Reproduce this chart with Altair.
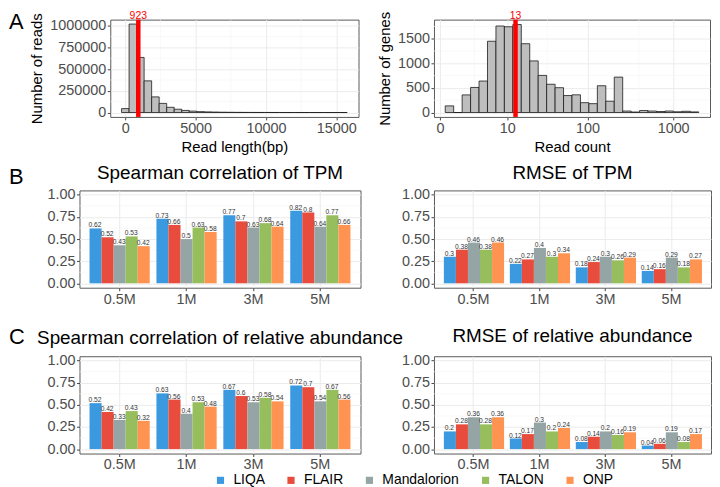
import altair as alt
import numpy as np
import pandas as pd

FONT = "Liberation Sans"

# ---------------- Panel A (left): read length histogram ----------------
len_bin_start = -267.5
len_bin_width = 535.0
len_counts = [45000, 1020000, 635000, 365000, 180000, 105000, 60000, 38000, 24000, 16000,
              10000, 7000, 5000, 3500, 2500, 1800, 1300, 900, 700, 500,
              400, 300, 200, 150, 120, 100, 80, 60, 40, 30]
len_median = [923]
len_xticks = [0, 5000, 10000, 15000]
len_xminor = [2500, 7500, 12500]
len_yticks = [0, 250000, 500000, 750000, 1000000]
len_yminor = [125000, 375000, 625000, 875000]

# ---------------- Panel A (right): read count per gene histogram (log-like axis) ----------------
cnt_counts = [135, 0, 358, 510, 640, 1450, 1760, 1745, 1790, 1400,
              1050, 755, 575, 505, 345, 360, 200, 180, 545, 230,
              720, 30, 10, 40, 30, 20, 30, 15, 25, 12]
cnt_median = [13]
symlog_c = 2.0
cnt_u_start = 0.141
cnt_u_width = 0.2253
cnt_xticks = [0, 10, 100, 1000]
cnt_xminor = [3, 33, 400]
cnt_yticks = [0, 500, 1000, 1500]
cnt_yminor = [250, 750, 1250, 1750]

# ---------------- Panels B / C: bar charts ----------------
sizes = ["0.5M", "1M", "3M", "5M"]
tools = ["LIQA", "FLAIR", "Mandalorion", "TALON", "ONP"]
colors = ["#3B99E0", "#E74C3C", "#95A5A6", "#96BE5C", "#FF9452"]

# values per tool, in order of sizes
spear_tpm = [[0.62, 0.73, 0.77, 0.82],
             [0.52, 0.66, 0.70, 0.80],
             [0.43, 0.50, 0.63, 0.64],
             [0.53, 0.63, 0.68, 0.77],
             [0.42, 0.58, 0.64, 0.66]]
rmse_tpm = [[0.30, 0.22, 0.18, 0.14],
            [0.38, 0.27, 0.24, 0.16],
            [0.46, 0.40, 0.30, 0.29],
            [0.38, 0.30, 0.26, 0.18],
            [0.46, 0.34, 0.29, 0.27]]
spear_rel = [[0.52, 0.63, 0.67, 0.72],
             [0.42, 0.56, 0.60, 0.70],
             [0.33, 0.40, 0.53, 0.54],
             [0.43, 0.53, 0.58, 0.67],
             [0.32, 0.48, 0.54, 0.56]]
rmse_rel = [[0.20, 0.12, 0.08, 0.04],
            [0.28, 0.17, 0.14, 0.06],
            [0.36, 0.30, 0.20, 0.19],
            [0.28, 0.20, 0.16, 0.08],
            [0.36, 0.24, 0.19, 0.17]]
bar_yticks = [0, 0.25, 0.5, 0.75, 1.0]
bar_yminor = [0.125, 0.375, 0.625, 0.875]

MINOR = "#F4F4F4"


def minor_rules(vals, channel, scale, axis):
    base = alt.Chart(pd.DataFrame({"v": vals})).mark_rule(color=MINOR, strokeWidth=0.6)
    if channel == "y":
        return base.encode(y=alt.Y("v:Q", scale=scale, axis=axis))
    return base.encode(x=alt.X("v:Q", scale=scale, axis=axis))


def text_layer(txt, x, y, size, align="left", color="black"):
    return alt.Chart(pd.DataFrame({"t": [txt]})).mark_text(
        fontSize=size, font=FONT, align=align, baseline="alphabetic", color=color
    ).encode(x=alt.value(x), y=alt.value(y), text="t:N")


# ---- A left ----
len_df = pd.DataFrame({
    "lo": [len_bin_start + i * len_bin_width for i in range(len(len_counts))],
    "hi": [len_bin_start + (i + 1) * len_bin_width for i in range(len(len_counts))],
    "count": len_counts,
    "zero": [0] * len(len_counts),
})
xA1 = alt.Scale(domain=[-1070, 16585], nice=False, zero=False)
yA1 = alt.Scale(domain=[-51000, 1071000], nice=False, zero=False)
axA1x = alt.Axis(values=len_xticks, format="d", title="Read length(bp)")
axA1y = alt.Axis(values=len_yticks, format="d", title="Number of reads")
a1_bars = alt.Chart(len_df).mark_rect(fill="#BEBEBE", stroke="#1A1A1A", strokeWidth=0.8).encode(
    x=alt.X("lo:Q", scale=xA1, axis=axA1x),
    x2="hi:Q",
    y=alt.Y("count:Q", scale=yA1, axis=axA1y),
    y2="zero:Q",
)
med1 = pd.DataFrame({"m": len_median})
a1_rule = alt.Chart(med1).mark_rule(color="#FF0000", strokeWidth=4.5).encode(
    x=alt.X("m:Q", scale=xA1, axis=axA1x))
a1_txt = alt.Chart(med1).mark_text(color="#FF0000", fontSize=10.5, font=FONT, baseline="alphabetic").encode(
    x=alt.X("m:Q", scale=xA1, axis=axA1x), y=alt.value(-1), text=alt.Text("m:Q", format="d"))
A1 = alt.layer(minor_rules(len_xminor, "x", xA1, axA1x), minor_rules(len_yminor, "y", yA1, axA1y),
               a1_bars, a1_rule, a1_txt).properties(width=250, height=98)

# ---- A right ----
n = len(cnt_counts)
u_lo = np.array([cnt_u_start + i * cnt_u_width for i in range(n)])
cnt_df = pd.DataFrame({
    "lo": symlog_c * (np.exp(u_lo) - 1),
    "hi": symlog_c * (np.exp(u_lo + cnt_u_width) - 1),
    "count": cnt_counts,
    "zero": [0] * n,
})
xA2 = alt.Scale(type="symlog", constant=symlog_c, domain=[-0.345, 2677], nice=False, zero=False)
yA2 = alt.Scale(domain=[-90, 1890], nice=False, zero=False)
axA2x = alt.Axis(values=cnt_xticks, format="d", title="Read count")
axA2y = alt.Axis(values=cnt_yticks, format="d", title="Number of genes")
a2_bars = alt.Chart(cnt_df).mark_rect(fill="#BEBEBE", stroke="#1A1A1A", strokeWidth=0.8).encode(
    x=alt.X("lo:Q", scale=xA2, axis=axA2x),
    x2="hi:Q",
    y=alt.Y("count:Q", scale=yA2, axis=axA2y),
    y2="zero:Q",
)
med2 = pd.DataFrame({"m": cnt_median})
a2_rule = alt.Chart(med2).mark_rule(color="#FF0000", strokeWidth=4.5).encode(
    x=alt.X("m:Q", scale=xA2, axis=axA2x))
a2_txt = alt.Chart(med2).mark_text(color="#FF0000", fontSize=10.5, font=FONT, baseline="alphabetic").encode(
    x=alt.X("m:Q", scale=xA2, axis=axA2x), y=alt.value(-1), text=alt.Text("m:Q", format="d"))
A2 = alt.layer(minor_rules(cnt_xminor, "x", xA2, axA2x), minor_rules(cnt_yminor, "y", yA2, axA2y),
               a2_bars, a2_rule, a2_txt).properties(width=278, height=98)

spacerA = text_layer("A", -71, 9, 22).properties(width=31, height=98,
                                                   view=alt.ViewBackground(stroke="transparent"))

color_enc = alt.Color(
    "tool:N", sort=tools, scale=alt.Scale(domain=tools, range=colors),
    legend=alt.Legend(orient="none", legendX=135, legendY=457, direction="horizontal", title=None,
                      symbolType="square", symbolSize=52, symbolStrokeWidth=0,
                      labelFontSize=14, labelFont=FONT, labelColor="black",
                      columnPadding=19, labelOffset=6, padding=0),
)


def bar_panel(values, title, toffset, width, letter=None, letter_dy=0):
    rows = []
    for ti, t in enumerate(tools):
        for si, s in enumerate(sizes):
            v = values[ti][si]
            rows.append({"size": s, "tool": t, "value": v, "label": f"{v:g}"})
    df = pd.DataFrame(rows)
    ysc = alt.Scale(domain=[-0.05, 1.05], nice=False, zero=False)
    axy = alt.Axis(values=bar_yticks, format=".2f", title=None)
    xs = alt.X("size:N", sort=sizes, scale=alt.Scale(paddingInner=0.1, paddingOuter=0.15),
               axis=alt.Axis(title=None, bandPosition=0.5, grid=True, labelAngle=0))
    xo = alt.XOffset("tool:N", sort=tools, scale=alt.Scale(paddingInner=0, paddingOuter=0))
    ys = alt.Y("value:Q", scale=ysc, axis=axy)
    base = alt.Chart(df)
    bars = base.mark_bar().encode(x=xs, xOffset=xo, y=ys, color=color_enc)
    txt = base.mark_text(fontSize=6.7, font=FONT, color="#333333", baseline="alphabetic", dy=-1, dx=-0.5).encode(
        x=xs, xOffset=xo, y=ys, text="label:N")
    layers = [minor_rules(bar_yminor, "y", ysc, axy), bars, txt,
              text_layer(title, width / 2, -toffset, 19, align="center")]
    if letter:
        layers.append(text_layer(letter, -71, letter_dy, 22))
    return alt.layer(*layers).properties(width=width, height=98)


B1 = bar_panel(spear_tpm, "Spearman correlation of TPM", 11, 283, "B", -6)
B2 = bar_panel(rmse_tpm, "RMSE of TPM", 11, 279)
C1 = bar_panel(spear_rel, "Spearman correlation of relative abundance", 12, 283, "C", -12)
C2 = bar_panel(rmse_rel, "RMSE of relative abundance", 14, 279)

rowA = alt.hconcat(spacerA, alt.hconcat(A1, A2, spacing=76, bounds="flush"), spacing=0, bounds="flush")
rowB = alt.hconcat(B1, B2, spacing=74, bounds="flush")
rowC = alt.hconcat(C1, C2, spacing=74, bounds="flush")

chart = alt.vconcat(
    rowA, alt.vconcat(rowB, rowC, spacing=19), spacing=8
).properties(padding=0).configure_view(
    stroke="#5A5A5A", strokeWidth=1
).configure_axis(
    labelFont=FONT, labelFontSize=14.5, labelColor="#4D4D4D", labelPadding=1.5,
    labelFlush=False, labelBound=False,
    tickColor="#444444", tickSize=3, domain=False,
    gridColor="#EBEBEB", gridWidth=1,
    titleFont=FONT, titleFontSize=15, titleFontWeight="normal", titleColor="black", titlePadding=5,
)

chart.save("out.html", embed_options={"renderer": "svg", "actions": False})
